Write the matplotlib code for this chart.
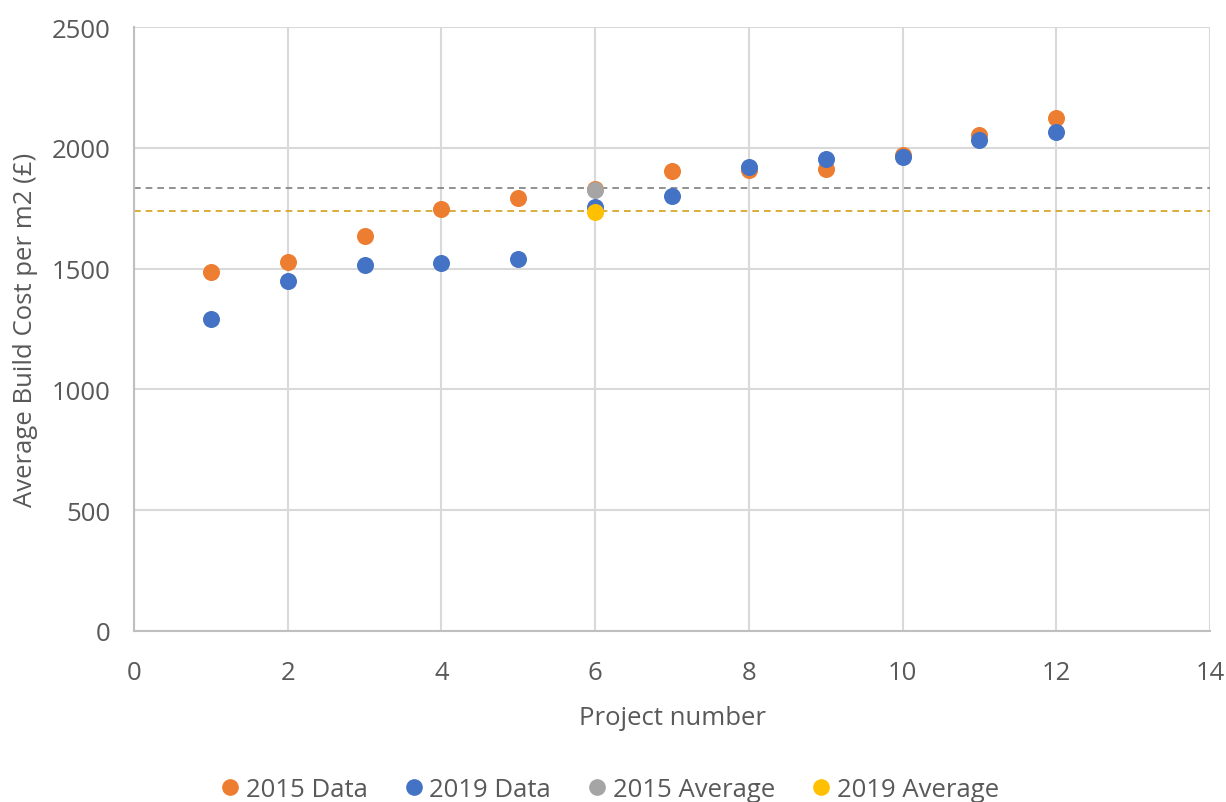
import matplotlib.pyplot as plt
from matplotlib.lines import Line2D

plt.rcParams['font.family'] = ['Open Sans', 'DejaVu Sans']

projects = [1, 2, 3, 4, 5, 6, 7, 8, 9, 10, 11, 12]
cost_2015 = [1486, 1527, 1635, 1747, 1792, 1830, 1905, 1908, 1912, 1970, 2053, 2123]
cost_2019 = [1291, 1449, 1515, 1523, 1540, 1755, 1802, 1922, 1952, 1963, 2032, 2067]
avg_project = 6
avg_2015 = 1826
avg_2019 = 1736
avg_line_2015 = 1832
avg_line_2019 = 1738

c15 = '#ed7d31'
c19 = '#4472c4'
cavg15 = '#a5a5a5'
cavg19 = '#ffc000'
txt = '#595959'
fs = 18.5

fig = plt.figure(figsize=(12.26, 8.03), dpi=100)
ax = fig.add_axes([0.1093, 0.213, 0.8777, 0.752])

ax.axhline(avg_line_2015, color='#7f7f7f', lw=1.2, ls=(0, (4, 3)), zorder=2)
ax.axhline(avg_line_2019, color='#d4a017', lw=1.2, ls=(0, (4, 3)), zorder=2)

ms = 150
ax.scatter(projects, cost_2015, s=ms, color=c15, zorder=3, linewidths=0)
ax.scatter(projects, cost_2019, s=ms, color=c19, zorder=4, linewidths=0)
ax.scatter([avg_project], [avg_2015], s=ms, color=cavg15, zorder=5, linewidths=0)
ax.scatter([avg_project], [avg_2019], s=ms, color=cavg19, zorder=5, linewidths=0)

ax.set_xlim(0, 14)
ax.set_ylim(0, 2500)
ax.set_xticks(range(0, 15, 2))
ax.set_yticks(range(0, 2501, 500))
ax.grid(True, color='#d9d9d9', lw=1.5, zorder=0)
ax.set_axisbelow(True)
for s in ['top', 'right']:
    ax.spines[s].set_visible(False)
for s in ['left', 'bottom']:
    ax.spines[s].set_color('#bfbfbf')
    ax.spines[s].set_linewidth(1.5)
ax.tick_params(length=0, labelsize=fs, colors=txt)
ax.tick_params(axis='x', pad=21)
ax.tick_params(axis='y', pad=17)

ax.set_xlabel('Project number', fontsize=fs, color=txt, labelpad=14)
ax.set_ylabel('Average Build Cost per m2 (£)', fontsize=fs, color=txt, labelpad=10)

handles = [Line2D([], [], marker='o', ls='', color=c, markersize=11)
           for c in [c15, c19, cavg15, cavg19]]
fig.legend(handles, ['2015 Data', '2019 Data', '2015 Average', '2019 Average'],
           loc='center', bbox_to_anchor=(0.495, 0.016), ncol=4, frameon=False,
           fontsize=fs, labelcolor=txt, handletextpad=0.0, columnspacing=1.2,
           handlelength=1.2)

fig.savefig('out.png', dpi=100)
